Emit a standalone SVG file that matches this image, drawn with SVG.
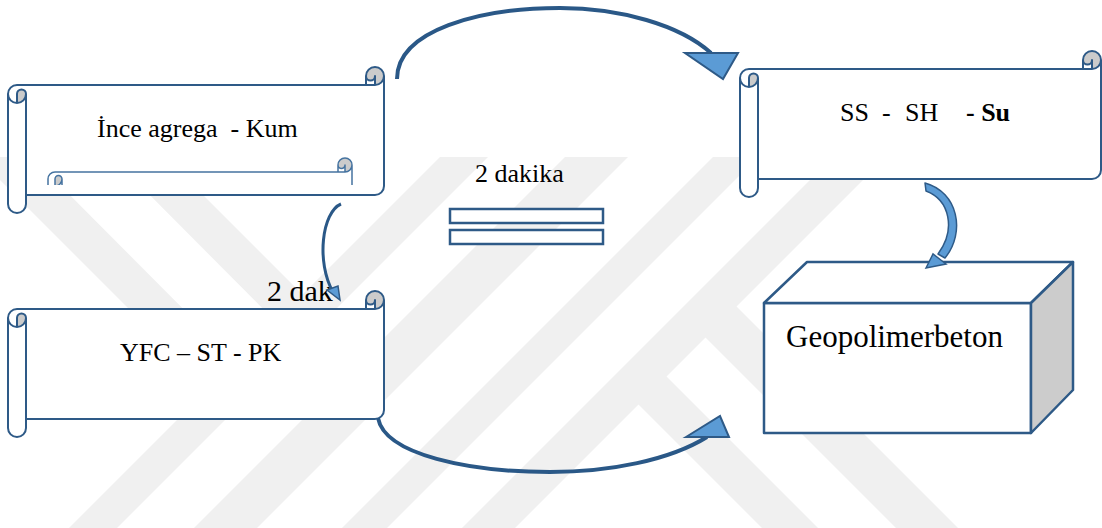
<svg xmlns="http://www.w3.org/2000/svg" width="1102" height="528" viewBox="0 0 1102 528">
<defs>
<style>
.wm{fill:#f0f0f0;stroke:none}
.sf{fill:#ffffff;stroke:none}
.sd{fill:#cbcbcb;stroke:none}
.ss{fill:none;stroke:#2e5a87;stroke-width:2;stroke-linejoin:round}
.mini{fill:none;stroke:#4573a0;stroke-width:1.5;stroke-linejoin:round}
.ln{fill:none;stroke:#2a5887;stroke-width:4}
.ah{fill:#5b9bd5;stroke:#2e5a87;stroke-width:2;stroke-linejoin:miter}
.band{fill:#5b9bd5;stroke:#2e5a87;stroke-width:1.5;stroke-linejoin:round}
.box{stroke:#2e5a87;stroke-width:2.5;stroke-linejoin:round}
.eq{fill:#ffffff;stroke:#2e5a87;stroke-width:2.5}
</style>
<clipPath id="wmclip"><rect x="0" y="157" width="1102" height="371"/></clipPath>
<clipPath id="miniclip"><rect x="40" y="150" width="320" height="35"/></clipPath>
<g id="scrollA">
<path class="sf" d="M376,9 A9 9 0 0 1 367,18 L367,9 A4.5 4.5 0 0 1 358,9 L358,18 L9,18 A9 9 0 0 0 0,27 L0,137 A9 9 0 0 0 18,137 L18,128 L367,128 A9 9 0 0 0 376,119 Z"/>
<path class="sd" d="M9,36 A9 9 0 0 0 18,27 A4.5 4.5 0 0 0 9,27 Z M367,18 A9 9 0 1 0 358,9 A4.5 4.5 0 0 0 367,9 Z"/>
<path class="ss" d="M0,27 A9 9 0 0 1 9,18 L358,18 L358,9 A9 9 0 0 1 376,9 L376,119 A9 9 0 0 1 367,128 L18,128 L18,137 A9 9 0 0 1 0,137 Z M358,18 L367,18 A9 9 0 0 0 376,9 M367,18 L367,9 A4.5 4.5 0 0 1 358,9 M9,36 L9,27 A4.5 4.5 0 0 1 18,27 A9 9 0 0 1 0,27 M18,27 L18,128"/>
</g>
<g id="scrollB">
<path class="sf" d="M361,9 A9 9 0 0 1 352,18 L352,9 A4.5 4.5 0 0 1 343,9 L343,18 L9,18 A9 9 0 0 0 0,27 L0,137 A9 9 0 0 0 18,137 L18,128 L352,128 A9 9 0 0 0 361,119 Z"/>
<path class="sd" d="M9,36 A9 9 0 0 0 18,27 A4.5 4.5 0 0 0 9,27 Z M352,18 A9 9 0 1 0 343,9 A4.5 4.5 0 0 0 352,9 Z"/>
<path class="ss" d="M0,27 A9 9 0 0 1 9,18 L343,18 L343,9 A9 9 0 0 1 361,9 L361,119 A9 9 0 0 1 352,128 L18,128 L18,137 A9 9 0 0 1 0,137 Z M343,18 L352,18 A9 9 0 0 0 361,9 M352,18 L352,9 A4.5 4.5 0 0 1 343,9 M9,36 L9,27 A4.5 4.5 0 0 1 18,27 A9 9 0 0 1 0,27 M18,27 L18,128"/>
</g>
</defs>

<rect x="0" y="0" width="1102" height="528" fill="#ffffff"/>

<g id="watermark" clip-path="url(#wmclip)">
<polygon class="wm" points="440,157 488,157 117,528 69,528"/>
<polygon class="wm" points="565,157 628,157 257,528 194,528"/>
<polygon class="wm" points="713,157 758,157 387,528 342,528"/>
<polygon class="wm" points="833,157 886,157 515,528 462,528"/>
<polygon class="wm" points="-23,157 32,157 247,373 220,400"/>
<polygon class="wm" points="112,157 165,157 314,306 287,333"/>
<polygon class="wm" points="617,383 645,355 818,528 762,528"/>
<polygon class="wm" points="684,316 715,285 958,528 896,528"/>
</g>

<g id="node-ince-agrega">
<use href="#scrollA" x="8" y="67"/>
<g clip-path="url(#miniclip)">
<path class="sd" d="M55,186 A7 7 0 0 0 62,179 A3.5 3.5 0 0 0 55,179 Z M345,172 A7 7 0 1 0 338,165 A3.5 3.5 0 0 0 345,165 Z"/>
<path class="mini" d="M48,190 L48,179 A7 7 0 0 1 55,172 L338,172 L338,165 A7 7 0 0 1 352,165 L352,190 M338,172 L345,172 A7 7 0 0 0 352,165 M345,172 L345,165 A3.5 3.5 0 0 1 338,165 M55,186 L55,179 A3.5 3.5 0 0 1 62,179 A7 7 0 0 1 55,186 M62,179 L62,190"/>
</g>
<text font-family="'Liberation Serif', Tinos, 'Times New Roman', 'DejaVu Serif', serif" fill="#000000" x="97" y="137" font-size="26" xml:space="preserve">İnce agrega  - Kum</text>
</g>

<g id="node-yfc">
<use href="#scrollA" x="8" y="291"/>
<text font-family="'Liberation Serif', Tinos, 'Times New Roman', 'DejaVu Serif', serif" fill="#000000" x="120" y="361" font-size="26">YFC – ST - PK</text>
</g>

<g id="node-ss-sh">
<use href="#scrollB" x="740" y="51"/>
<text font-family="'Liberation Serif', Tinos, 'Times New Roman', 'DejaVu Serif', serif" fill="#000000" font-size="26" y="121"><tspan x="840">SS</tspan><tspan x="882">-</tspan><tspan x="905">SH</tspan><tspan x="966" font-weight="bold">- Su</tspan></text>
</g>

<g id="node-geopolimerbeton">
<rect class="box" x="764" y="303" width="267" height="130" fill="#ffffff"/>
<polygon class="box" points="764,303 807,262 1073,262 1031,303" fill="#ffffff"/>
<polygon class="box" points="1031,303 1073,262 1073,390 1031,433" fill="#cccccc"/>
<text font-family="'Liberation Serif', Tinos, 'Times New Roman', 'DejaVu Serif', serif" fill="#000000" x="786" y="347" font-size="31">Geopolimerbeton</text>
</g>

<g id="node-equals">
<rect class="eq" x="450" y="209" width="153" height="14"/>
<rect class="eq" x="450" y="230" width="153" height="14"/>
</g>

<g id="labels">
<text font-family="'Liberation Serif', Tinos, 'Times New Roman', 'DejaVu Serif', serif" fill="#000000" x="475" y="182" font-size="26">2 dakika</text>
<text font-family="'Liberation Serif', Tinos, 'Times New Roman', 'DejaVu Serif', serif" fill="#000000" x="267" y="301" font-size="30">2 dak</text>
</g>

<g id="connectors">
<path class="ln" d="M397,79 C397,30 480,8 560,8 C620,8 680,25 711,53"/>
<polygon class="ah" points="685,53 738,53 723,79"/>
<path class="ln" d="M378,418 C385,455 470,472 550,472 C610,472 670,460 707,437"/>
<polygon class="ah" points="686,437 720,416 729,437"/>
<path class="ln" style="stroke-width:3" d="M341,204 C322,212 316,262 333,292"/>
<polygon class="ah" style="stroke-width:1.5" points="327,290 338,286 340,300"/>
<path class="band" d="M925,183 C958,192 966,232 945,258 L938,254 C956,230 950,200 926,191 Z"/>
<polygon class="ah" style="stroke-width:1.5" points="926,268 933,254 946,264"/>
</g>
</svg>
